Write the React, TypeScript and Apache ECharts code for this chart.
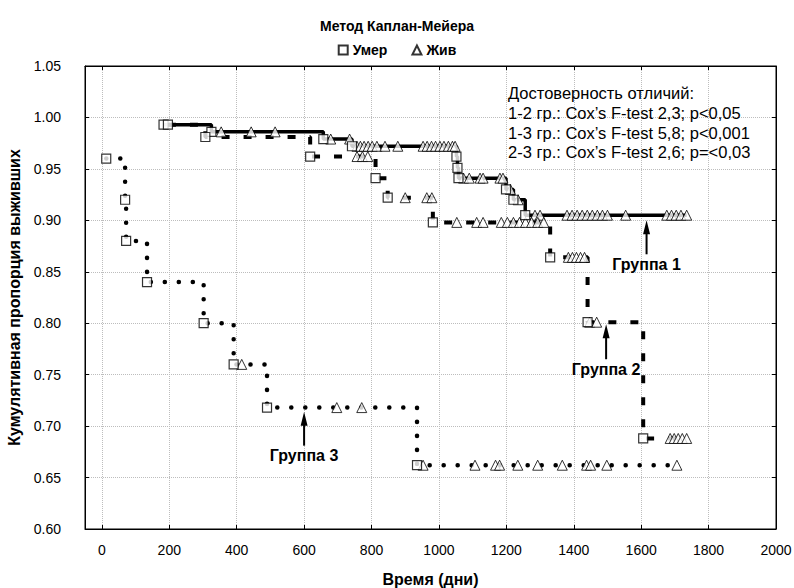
import React, { useEffect, useRef } from 'react';
import * as echarts from 'echarts';

// ---- data ----
const xTickValues = [0, 200, 400, 600, 800, 1000, 1200, 1400, 1600, 1800, 2000];

const g1DeathTimes = [183, 325, 657, 742, 1052, 1055, 1058, 1199, 1221, 1256];
const g1DeathSurv = [0.993, 0.986, 0.979, 0.972, 0.962, 0.951, 0.941, 0.93, 0.92, 0.905];
const g1CensTimes = [354, 443, 514, 679, 735, 757, 767, 778, 790, 802, 816, 840, 878, 953, 965, 978, 990, 1003, 1015, 1028, 1040, 1048, 1073, 1090, 1122, 1131, 1181, 1190, 1212, 1235, 1285, 1300, 1380, 1395, 1410, 1425, 1440, 1455, 1470, 1485, 1500, 1554, 1676, 1690, 1704, 1718, 1735];

const g2DeathTimes = [196, 307, 618, 812, 848, 982, 1330, 1441, 1606];
const g2DeathSurv = [0.993, 0.981, 0.962, 0.941, 0.922, 0.898, 0.864, 0.801, 0.688];
const g2CensTimes = [757, 773, 789, 900, 964, 979, 1053, 1112, 1131, 1185, 1203, 1221, 1239, 1257, 1275, 1293, 1311, 1384, 1396, 1408, 1420, 1432, 1447, 1468, 1686, 1698, 1710, 1722, 1735];

const g3DeathTimes = [13, 69, 72, 134, 302, 391, 490, 935];
const g3DeathSurv = [0.96, 0.92, 0.88, 0.84, 0.8, 0.76, 0.718, 0.662];
const g3CensTimes = [415, 697, 771, 953, 1107, 1168, 1180, 1234, 1293, 1366, 1438, 1450, 1498, 1706];

const groupLabels = ['Группа 1', 'Группа 2', 'Группа 3'];
const arrowX = [1616, 1496, 600];
const arrowTipY = [0.9, 0.799, 0.714];
const arrowTailY = [0.867, 0.765, 0.681];

const statLines = [
  'Достоверность отличий:',
  '1-2 гр.: Cox’s F-test 2,3; p<0,05',
  '1-3 гр.: Cox’s F-test 5,8; p<0,001',
  '2-3 гр.: Cox’s F-test 2,6; p=<0,03',
];

const FONT = '"Liberation Sans", Arial, sans-serif';

function levelAt(times: number[], surv: number[], t: number) {
  let v = surv[0];
  for (let i = 0; i < times.length; i++) if (times[i] <= t) v = surv[i];
  return v;
}
function stepData(times: number[], surv: number[], cens: number[]) {
  const end = Math.max(...times, ...cens);
  const d = times.map((t, i) => [t, surv[i]]);
  d.push([end, surv[surv.length - 1]]);
  return d;
}
function censData(times: number[], surv: number[], cens: number[]) {
  return cens.map((t) => [t, levelAt(times, surv, t)]);
}
function deathData(times: number[], surv: number[]) {
  return times.map((t, i) => [t, surv[i]]);
}

export default function App() {
  const ref = useRef<HTMLDivElement>(null);
  useEffect(() => {
    if (!ref.current) return;
    const chart = echarts.init(ref.current, null, { renderer: 'svg' });
    const xCommon = { type: 'value', min: -50, max: 2000 };
    const yCommon = { type: 'value', min: 0.6, max: 1.05, interval: 0.05 };
    const lineBase = { type: 'line', step: 'end', showSymbol: false, symbol: 'none', z: 2, silent: true };
    const axisLine = { show: true, onZero: false, lineStyle: { color: '#000', width: 1 } };
    chart.setOption({
      animation: false,
      textStyle: { fontFamily: FONT },
      title: {
        text: 'Метод Каплан-Мейера',
        left: 'center',
        top: 14,
        textStyle: { fontFamily: FONT, fontWeight: 'bold', fontSize: 14, color: '#000' },
      },
      legend: {
        top: 38,
        left: 'center',
        itemWidth: 9,
        itemHeight: 9,
        itemGap: 24,
        data: [
          { name: 'Умер', icon: 'rect' },
          { name: 'Жив', icon: 'triangle' },
        ],
        textStyle: { fontFamily: FONT, fontWeight: 'bold', fontSize: 14, color: '#000' },
      },
      grid: {
        left: 85,
        right: 18,
        top: 66,
        bottom: 59,
        outerBoundsMode: 'none',
        containLabel: false,
        show: true,
        borderColor: '#000',
        borderWidth: 1,
      },
      xAxis: [
        {
          ...xCommon,
          position: 'bottom',
          name: 'Время (дни)',
          nameLocation: 'middle',
          nameGap: 42,
          nameTextStyle: { fontFamily: FONT, fontWeight: 'bold', fontSize: 16, color: '#000' },
          axisLine,
          axisTick: { show: true, inside: true, length: 4, customValues: xTickValues, lineStyle: { color: '#000' } },
          axisLabel: {
            margin: 14,
            fontFamily: FONT,
            fontSize: 14,
            color: '#000',
            customValues: xTickValues,
            formatter: (v: number) => String(v),
          },
          splitLine: { show: true, lineStyle: { type: 'dotted', color: '#bdbdbd', width: 1 } },
        },
        {
          ...xCommon,
          position: 'top',
          axisLine,
          axisTick: { show: true, inside: true, length: 4, customValues: xTickValues, lineStyle: { color: '#000' } },
          axisLabel: { show: false },
          splitLine: { show: false },
        },
      ],
      yAxis: [
        {
          ...yCommon,
          position: 'left',
          name: 'Кумулятивная пропорция выживших',
          nameLocation: 'middle',
          nameRotate: 90,
          nameGap: 50,
          nameTextStyle: { fontFamily: FONT, fontWeight: 'bold', fontSize: 16, color: '#000' },
          axisLine,
          axisTick: { show: true, inside: true, length: 4, lineStyle: { color: '#000' } },
          axisLabel: {
            margin: 24,
            fontFamily: FONT,
            fontSize: 14,
            color: '#000',
            formatter: (v: number) => v.toFixed(2),
          },
          splitLine: { show: true, lineStyle: { type: 'dotted', color: '#bdbdbd', width: 1 } },
        },
        {
          ...yCommon,
          position: 'right',
          axisLine,
          axisTick: { show: true, inside: true, length: 4, lineStyle: { color: '#000' } },
          axisLabel: { show: false },
          splitLine: { show: false },
        },
      ],
      series: [
        {
          ...lineBase,
          name: 'Группа 1',
          data: stepData(g1DeathTimes, g1DeathSurv, g1CensTimes),
          lineStyle: { color: '#000', width: 3.5, type: 'solid' },
        },
        {
          ...lineBase,
          name: 'Группа 2',
          data: stepData(g2DeathTimes, g2DeathSurv, g2CensTimes),
          lineStyle: { color: '#000', width: 4, type: [8, 14], cap: 'butt' },
        },
        {
          ...lineBase,
          name: 'Группа 3',
          data: stepData(g3DeathTimes, g3DeathSurv, g3CensTimes),
          lineStyle: { color: '#000', width: 4.5, type: [0.1, 13.9], cap: 'round' },
        },
        {
          type: 'scatter',
          name: 'Жив',
          symbol: 'triangle',
          symbolSize: 10,
          z: 3,
          itemStyle: { color: '#fff', borderColor: '#000', borderWidth: 1 },
          data: [
            ...censData(g1DeathTimes, g1DeathSurv, g1CensTimes),
            ...censData(g2DeathTimes, g2DeathSurv, g2CensTimes),
            ...censData(g3DeathTimes, g3DeathSurv, g3CensTimes),
          ],
        },
        {
          type: 'scatter',
          name: 'Умер',
          symbol: 'rect',
          symbolSize: 9,
          z: 4,
          itemStyle: { color: '#fff', borderColor: '#000', borderWidth: 1.2 },
          data: [
            ...deathData(g1DeathTimes, g1DeathSurv),
            ...deathData(g2DeathTimes, g2DeathSurv),
            ...deathData(g3DeathTimes, g3DeathSurv),
          ],
        },
      ],
    });

    const px = (x: number, y: number) => chart.convertToPixel({ seriesIndex: 0 }, [x, y]) as number[];
    const graphics: any[] = [];
    groupLabels.forEach((lab, i) => {
      const tip = px(arrowX[i], arrowTipY[i]);
      const tail = px(arrowX[i], arrowTailY[i]);
      graphics.push({
        type: 'line',
        shape: { x1: tip[0], y1: tip[1] + 10, x2: tail[0], y2: tail[1] },
        style: { stroke: '#000', lineWidth: 2 },
        z: 10,
      });
      graphics.push({
        type: 'polygon',
        shape: { points: [[tip[0], tip[1]], [tip[0] - 3.5, tip[1] + 14], [tip[0] + 3.5, tip[1] + 14]] },
        style: { fill: '#000' },
        z: 10,
      });
      graphics.push({
        type: 'text',
        x: tail[0],
        y: tail[1] + 2,
        style: {
          text: lab,
          fontFamily: FONT,
          fontWeight: 'bold',
          fontSize: 16,
          fill: '#000',
          textAlign: 'center',
          textVerticalAlign: 'top',
        },
        z: 10,
      });
    });
    statLines.forEach((s, i) => {
      graphics.push({
        type: 'text',
        x: 508,
        y: 93 + i * 19.8,
        style: {
          text: s,
          fontFamily: FONT,
          fontSize: 16.5,
          fill: '#000',
          textAlign: 'left',
          textVerticalAlign: 'middle',
        },
        z: 10,
      });
    });
    chart.setOption({ graphic: graphics });

    return () => chart.dispose();
  }, []);
  return <div ref={ref} style={{ width: 794, height: 588, position: 'absolute', left: 0, top: 0 }} />;
}
